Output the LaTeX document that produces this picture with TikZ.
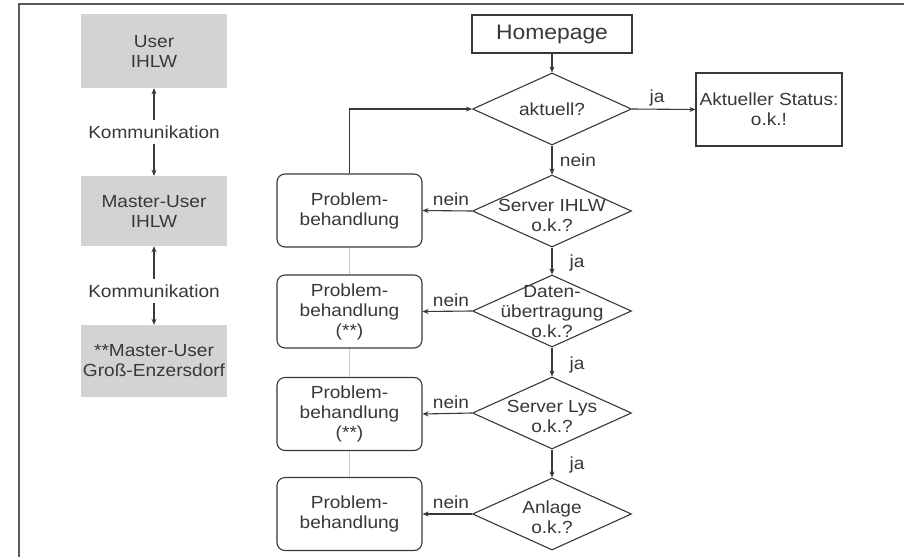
\documentclass[tikz,border=0pt]{standalone}
\usepackage{fontspec}
\setmainfont{Liberation Sans}[FakeStretch=1.09]
\usetikzlibrary{shapes.geometric,arrows.meta}
\definecolor{ink}{HTML}{383838}
\definecolor{greybox}{HTML}{D3D3D3}
\definecolor{frame}{HTML}{5A5A5A}
\definecolor{faint}{HTML}{C8C8C8}
\begin{document}
\begin{tikzpicture}[x=1pt,y=-1pt,
 txt/.style={font=\fontsize{17.5}{20}\selectfont, text=ink, align=center, inner sep=0pt},
 greyfill/.style={txt, fill=greybox, minimum width=146pt},
 pbox/.style={txt, draw=ink, line width=1.1pt, rounded corners=8pt, fill=white, minimum width=145pt, minimum height=73pt},
 decision/.style={diamond, draw=ink, line width=1.1pt, minimum width=159pt, minimum height=72pt, inner sep=0pt, fill=white},
 plainbox/.style={txt, draw=ink, line width=1.1pt, fill=white},
 arr/.style={draw=ink, line width=1.1pt, -{Stealth[length=6pt,width=5pt]}},
 lbl/.style={txt},
 komm/.style={txt, inner ysep=5pt}
]
\useasboundingbox (0,0) rectangle (904,557);
\fill[white] (0,0) rectangle (904,557);
\draw[frame, line width=1.5pt] (904,4) -- (19,4) -- (19,557);

% left column
\node[greyfill, minimum height=74pt] (u1) at (154,51) {User\\IHLW};
\node[greyfill, minimum height=70pt] (u2) at (154,211) {Master-User\\IHLW};
\node[greyfill, minimum height=72pt] (u3) at (154,361) {**Master-User\\Groß-Enzersdorf};
\node[komm] (k1) at (154,132) {Kommunikation};
\node[komm] (k2) at (154,291) {Kommunikation};
\draw[arr] (k1.north) -- (u1.south);
\draw[arr] (k1.south) -- (u2.north);
\draw[arr] (k2.north) -- (u2.south);
\draw[arr] (k2.south) -- (u3.north);

% faint connections between problem boxes
\draw[faint, line width=0.8pt] (349.5,247) -- (349.5,478);

% main flow
\node[plainbox, font=\fontsize{21}{24}\selectfont, minimum width=160pt, minimum height=38pt] (home) at (552,34) {Homepage};
\node[decision] (d1) at (552,109) {};
\node[txt] (t1) at (d1) {aktuell?};
\node[plainbox, minimum width=146pt, minimum height=73pt] (ok) at (769,109.5) {Aktueller Status:\\o.k.!};
\node[decision] (d2) at (552,211) {};
\node[txt] (t2) at (552,215) {Server IHLW\\o.k.?};
\node[decision] (d3) at (552,311) {};
\node[txt] (t3) at (552,312) {Daten-\\übertragung\\o.k.?};
\node[decision] (d4) at (552,413) {};
\node[txt] (t4) at (552,416) {Server Lys\\o.k.?};
\node[decision] (d5) at (552,514) {};
\node[txt] (t5) at (552,517) {Anlage\\o.k.?};

\node[pbox] (p1) at (349.5,210.5) {Problem-\\behandlung};
\node[pbox] (p2) at (349.5,311.5) {Problem-\\behandlung\\(**)};
\node[pbox] (p3) at (349.5,414) {Problem-\\behandlung\\(**)};
\node[pbox] (p4) at (349.5,514) {Problem-\\behandlung};

\draw[arr] (home.south) -- (d1.north);
\draw[arr] (d1.east) -- (ok.west);
\draw[arr] (d1.south) -- (d2.north);
\draw[arr] (d2.south) -- (d3.north);
\draw[arr] (d3.south) -- (d4.north);
\draw[arr] (d4.south) -- (d5.north);
\draw[arr] (d2.west) -- (p1.east);
\draw[arr] (d3.west) -- (p2.east);
\draw[arr] (d4.west) -- (p3.east);
\draw[arr] (d5.west) -- (p4.east);
\draw[arr] (p1.north) |- (d1.west);

% labels
\node[lbl] (ja1) at (657,98) {ja};
\node[lbl] (n0) at (578,160) {nein};
\node[lbl] (n1) at (451,199) {nein};
\node[lbl] (n2) at (451,300) {nein};
\node[lbl] (n3) at (451,402) {nein};
\node[lbl] (n4) at (451,502) {nein};
\node[lbl] (ja2) at (577,263) {ja};
\node[lbl] (ja3) at (577,365) {ja};
\node[lbl] (ja4) at (577,465) {ja};
\end{tikzpicture}
\end{document}
